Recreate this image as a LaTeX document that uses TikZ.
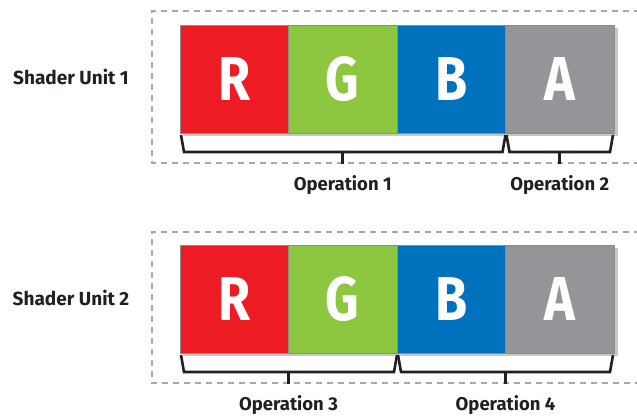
\documentclass[tikz,border=0pt]{standalone}
\usepackage{fontspec}
\setmainfont{Fira Sans}
\usetikzlibrary{calc}
\definecolor{chR}{HTML}{ED1C24}
\definecolor{chG}{HTML}{8DC63F}
\definecolor{chB}{HTML}{0071BC}
\definecolor{chA}{HTML}{939598}
\definecolor{ink}{HTML}{231F20}
\definecolor{frame}{HTML}{A8A8A8}
\newcommand{\chletter}[1]{\scalebox{0.84}[1]{#1}}
\tikzset{
  chan/.style={minimum width=108.5pt, minimum height=108pt, inner sep=0pt, outer sep=0pt,
    draw=black!45, line width=0.4pt, text=white,
    font=\fontsize{62}{62}\selectfont\bfseries},
  unitlabel/.style={font=\fontsize{19}{19}\selectfont\bfseries, text=ink},
  oplabel/.style={font=\fontsize{18.5}{18.5}\selectfont\bfseries, text=ink, anchor=north},
  bracket/.style={draw=ink, line width=2.6pt, line join=miter},
  tick/.style={draw=ink, line width=2.6pt},
  dashframe/.style={draw=frame, line width=1.2pt, dash pattern=on 6pt off 5pt},
  shade/.style={fill=black, opacity=0.22}
}
\begin{document}
\begin{tikzpicture}[x=1pt, y=-1pt]
\useasboundingbox (0,0) rectangle (637,415);

% dashed unit frames, open on the right
\draw[dashframe] (640,11) -- (152,11) -- (152,163) -- (640,163);
\draw[dashframe] (640,232) -- (152,232) -- (152,383) -- (640,383);

% soft shadows behind the channel rows
\fill[shade] (183,28) rectangle (618,136);
\fill[shade] (183,248) rectangle (618,356);

% unit 1
\node[chan, fill=chR, anchor=north west] (r1) at (180,25) {\chletter{R}};
\node[chan, fill=chG, anchor=west] (g1) at (r1.east) {\chletter{G}};
\node[chan, fill=chB, anchor=west] (b1) at (g1.east) {\chletter{B}};
\node[chan, fill=chA, anchor=west] (a1) at (b1.east) {\chletter{A}};
\node[unitlabel] (u1) at (71,77) {Shader Unit 1};

% unit 2
\node[chan, fill=chR, anchor=north west] (r2) at (180,245) {\chletter{R}};
\node[chan, fill=chG, anchor=west] (g2) at (r2.east) {\chletter{G}};
\node[chan, fill=chB, anchor=west] (b2) at (g2.east) {\chletter{B}};
\node[chan, fill=chA, anchor=west] (a2) at (b2.east) {\chletter{A}};
\node[unitlabel] (u2) at (71,298) {Shader Unit 2};

% brackets under unit 1
\draw[bracket] ($(r1.south west)+(1,2)$) -- ++(3,17) -- ($(b1.south east)+(-3,19)$) -- ($(b1.south east)+(0,2)$);
\draw[bracket] ($(a1.south west)+(1,2)$) -- ++(3,17) -- ($(a1.south east)+(-4,19)$) -- ($(a1.south east)+(-1,2)$);
\coordinate (m1) at ($(r1.south west)!0.5!(b1.south east)+(0,19)$);
\coordinate (m2) at ($(a1.south west)!0.5!(a1.south east)+(0,19)$);
\node[oplabel] (op1) at ($(m1)+(0,20)$) {Operation 1};
\node[oplabel] (op2) at ($(m2)+(0,20)$) {Operation 2};
\draw[tick] (m1) -- ++(0,12);
\draw[tick] (m2) -- ++(0,12);

% brackets under unit 2
\draw[bracket] ($(r2.south west)+(1,2)$) -- ++(3,17) -- ($(g2.south east)+(-3,19)$) -- ($(g2.south east)+(0,2)$);
\draw[bracket] ($(b2.south west)+(1,2)$) -- ++(3,17) -- ($(a2.south east)+(-4,19)$) -- ($(a2.south east)+(-1,2)$);
\coordinate (m3) at ($(r2.south west)!0.5!(g2.south east)+(0,19)$);
\coordinate (m4) at ($(b2.south west)!0.5!(a2.south east)+(0,19)$);
\node[oplabel] (op3) at ($(m3)+(0,20)$) {Operation 3};
\node[oplabel] (op4) at ($(m4)+(0,20)$) {Operation 4};
\draw[tick] (m3) -- ++(0,12);
\draw[tick] (m4) -- ++(0,12);
\end{tikzpicture}
\end{document}
